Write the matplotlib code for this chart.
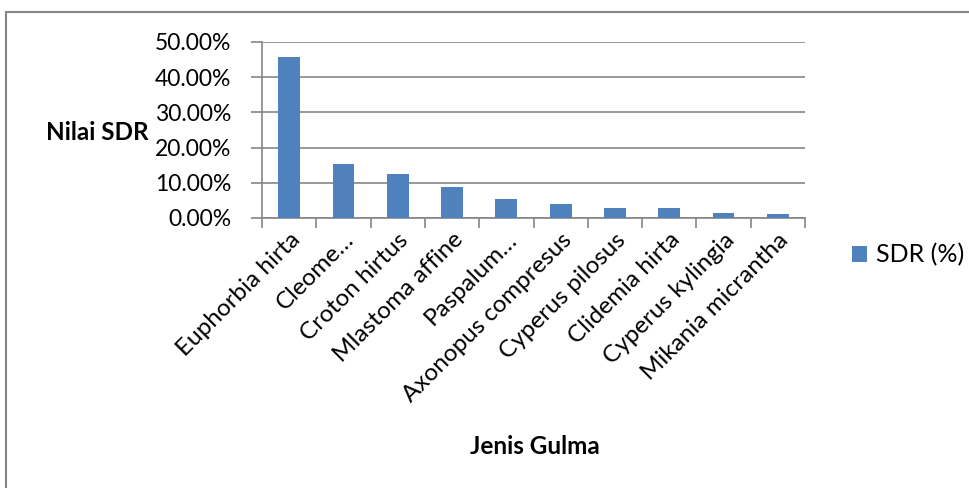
import matplotlib.pyplot as plt
from matplotlib.patches import Rectangle
from matplotlib.ticker import FuncFormatter, MultipleLocator

plt.rcParams['font.family'] = ['Lato', 'DejaVu Sans']

species = ["Euphorbia hirta", "Cleome…", "Croton hirtus", "Mlastoma affine",
           "Paspalum…", "Axonopus compresus", "Cyperus pilosus",
           "Clidemia hirta", "Cyperus kylingia", "Mikania micrantha"]
sdr = [45.8, 15.2, 12.5, 8.7, 5.3, 3.9, 2.75, 2.75, 1.55, 1.2]

grey = "#868686"

fig = plt.figure(figsize=(9.7, 4.88), dpi=100)
ax = fig.add_axes([262 / 970, 1 - 218 / 488, (805 - 262) / 970, (218 - 42) / 488])

x = range(len(species))
ax.bar(x, sdr, width=0.4, color="#4F81BD", label="SDR (%)", zorder=3)

ax.set_xlim(-0.5, len(species) - 0.5)
ax.set_ylim(0, 50)
ax.yaxis.set_major_locator(MultipleLocator(10))
ax.yaxis.set_major_formatter(FuncFormatter(lambda v, p: f"{v:.2f}%"))
ax.grid(axis="y", color=grey, lw=1.2, zorder=0)

ax.set_xticks([i + 0.5 for i in range(-1, len(species))])
ax.set_xticklabels([])
ax.set_xticks(list(x), minor=True)
ax.set_xticklabels(species, minor=True, rotation=45, ha="right", va="top",
                   rotation_mode="anchor", fontsize=17.5)
ax.tick_params(axis="x", which="minor", length=0, pad=8)
ax.tick_params(axis="x", which="major", length=7, color=grey, width=1.2)
ax.tick_params(axis="y", length=8, color=grey, width=1.2, labelsize=16.5, pad=14)

for side in ["top", "right"]:
    ax.spines[side].set_visible(False)
for side in ["left", "bottom"]:
    ax.spines[side].set_color(grey)
    ax.spines[side].set_linewidth(1.2)

fig.text(97 / 970, 1 - 132 / 488, "Nilai SDR", fontsize=17.5, fontweight="bold",
         ha="center", va="center")
fig.text(535 / 970, 1 - 447 / 488, "Jenis Gulma", fontsize=17.5, fontweight="bold",
         ha="center", va="center")

fig.legend(loc="center left", bbox_to_anchor=(830 / 970, 1 - 255 / 488), frameon=False,
           fontsize=18, handlelength=0.6, handleheight=0.6, handletextpad=0.35)

fig.patches.append(Rectangle((6 / 970, -0.1), 1.1, 1.1 - 12 / 488,
                             transform=fig.transFigure, fill=False,
                             edgecolor=grey, lw=1.5))

fig.savefig("out.png", dpi=100)
